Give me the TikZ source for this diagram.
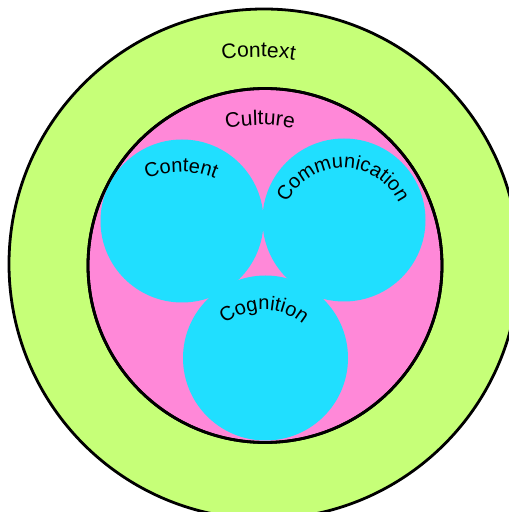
\documentclass[tikz,border=0pt]{standalone}
\usepackage{fontspec}
\setmainfont{Liberation Sans}
\usetikzlibrary{decorations.text}

\definecolor{ctxgreen}{RGB}{198,255,120}
\definecolor{culpink}{RGB}{255,136,216}
\definecolor{bubcyan}{RGB}{32,223,255}
\newcommand{\bigfont}{\fontsize{21}{25}\selectfont}
\newcommand{\smallfont}{\fontsize{20}{24}\selectfont}

\begin{document}
\begin{tikzpicture}[
  x=1pt, y=1pt,
  ring/.style={circle, draw=black, line width=2.8pt, inner sep=0pt},
  bubble/.style={circle, fill=bubcyan, inner sep=0pt, minimum size=163pt},
  arclabel/.style={decorate, decoration={text along path, text align=center, text={#1}}}
]
\clip (0,0) rectangle (509,512);
\node[ring, fill=ctxgreen, minimum size=510pt] (context) at (264,248) {};
\node[ring, fill=culpink, minimum size=354pt] (culture) at (265,246.5) {};
\node[bubble] (content) at (182,291) {};
\node[bubble] (communication) at (344,292) {};
\node[bubble, minimum size=165pt] (cognition) at (265.5,154) {};
\node[ring, minimum size=354pt] (cultureedge) at (culture.center) {};

% curved labels
\path[arclabel={|\bigfont|Context}] (258.5,235) ++(150:220) arc[start angle=150, end angle=30, radius=220];
\path[arclabel={|\bigfont|Culture}] (260,237) ++(150:150) arc[start angle=150, end angle=30, radius=150];
\path[arclabel={|\smallfont|Content}] (181,250) ++(160:90) arc[start angle=160, end angle=20, radius=90];
\path[arclabel={|\smallfont|Communication}] (343,282) ++(180:62) arc[start angle=180, end angle=0, radius=62];
\path[arclabel={|\smallfont|Cognition}] (264,142) ++(170:60) arc[start angle=170, end angle=10, radius=60];
\end{tikzpicture}
\end{document}
